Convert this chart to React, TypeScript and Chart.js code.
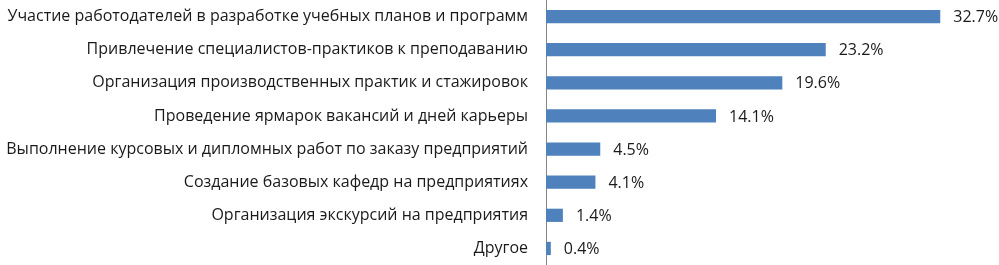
import React, { useEffect, useRef } from "react";
import { Chart, registerables } from "chart.js";

Chart.register(...registerables);

const categories = [
  "Участие работодателей в разработке учебных планов и программ",
  "Привлечение специалистов-практиков к преподаванию",
  "Организация производственных практик и стажировок",
  "Проведение ярмарок вакансий и дней карьеры",
  "Выполнение курсовых и дипломных работ по заказу предприятий",
  "Создание базовых кафедр на предприятиях",
  "Организация экскурсий на предприятия",
  "Другое",
];

const values = [32.7, 23.2, 19.6, 14.1, 4.5, 4.1, 1.4, 0.4];

const FONT = "'Open Sans', sans-serif";
const SIZE = 16;

const valueLabels = {
  id: "valueLabels",
  afterDatasetsDraw(chart: any) {
    const ctx = chart.ctx;
    const meta = chart.getDatasetMeta(0);
    ctx.save();
    ctx.font = `${SIZE}px ${FONT}`;
    ctx.fillStyle = "#1a1a1a";
    ctx.textAlign = "left";
    ctx.textBaseline = "middle";
    meta.data.forEach((bar: any, i: number) => {
      ctx.fillText(values[i].toFixed(1) + "%", bar.x + 13, bar.y + 1);
    });
    ctx.restore();
  },
};

export default function App() {
  const ref = useRef<HTMLCanvasElement>(null);
  useEffect(() => {
    document.body.style.margin = "0";
    const chart = new Chart(ref.current!, {
      type: "bar",
      data: {
        labels: categories,
        datasets: [
          {
            data: values,
            backgroundColor: "#4F81BD",
            barPercentage: 0.4,
            categoryPercentage: 1,
          },
        ],
      },
      options: {
        indexAxis: "y",
        animation: false,
        responsive: false,
        layout: { padding: { top: 0, bottom: 0, left: 0, right: 31 } },
        plugins: { legend: { display: false }, tooltip: { enabled: false } },
        scales: {
          x: { display: false, min: 0, max: 35 },
          y: {
            grid: { display: false },
            border: { display: true, color: "#868686", width: 1 },
            ticks: {
              color: "#1a1a1a",
              font: { family: FONT, size: SIZE },
              padding: 10,
              autoSkip: false,
            },
            afterFit(scale: any) {
              scale.width = 546;
              scale.paddingTop = 0;
              scale.paddingBottom = 0;
            },
          },
        },
      },
      plugins: [valueLabels],
    });
    return () => chart.destroy();
  }, []);
  return (
    <div style={{ width: 999, height: 265 }}>
      <canvas ref={ref} width={999} height={265} />
    </div>
  );
}
